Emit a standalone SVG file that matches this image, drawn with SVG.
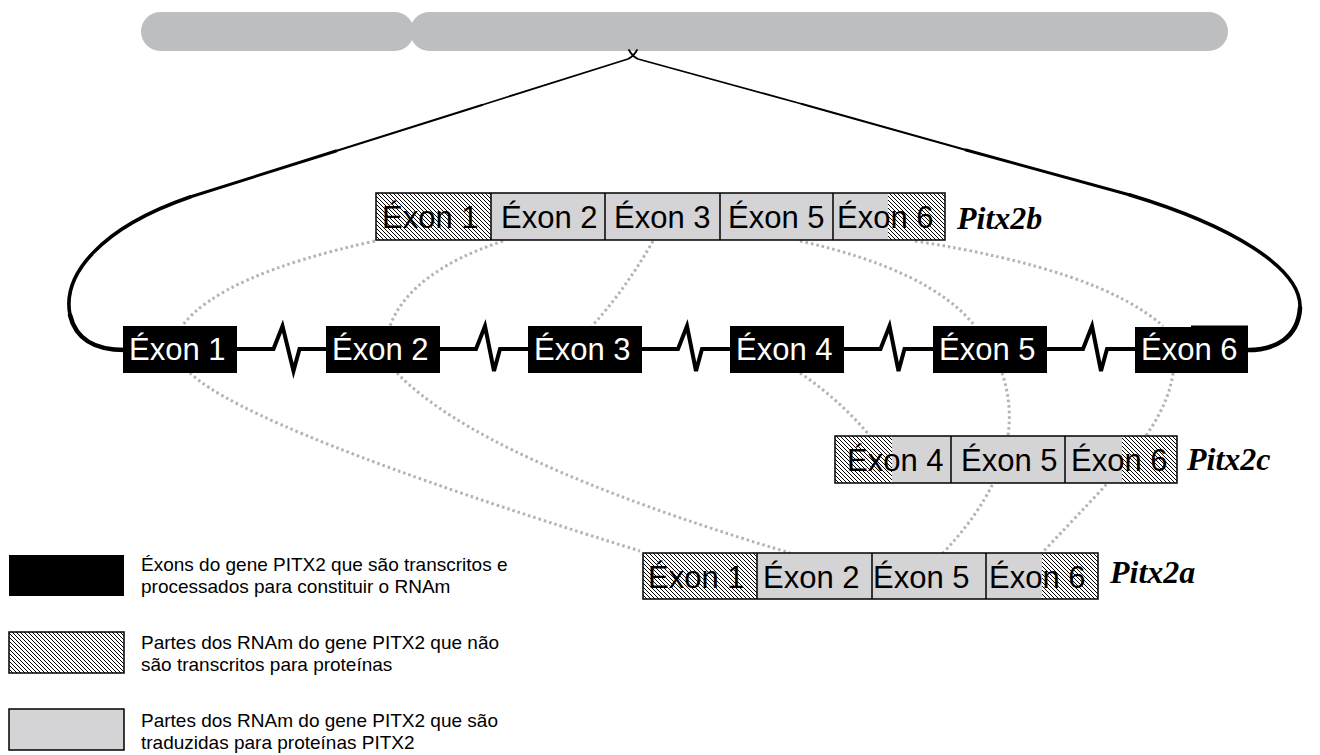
<svg xmlns="http://www.w3.org/2000/svg" width="1320" height="755" viewBox="0 0 1320 755">
<defs>
<pattern id="hatch" patternUnits="userSpaceOnUse" width="4" height="4">
<rect width="4" height="4" fill="#ffffff"/>
<path d="M-1,-1 L5,5 M-1,3 L1,5 M3,-1 L5,1" stroke="#000" stroke-width="1"/>
</pattern>
</defs>
<style>
.chr{fill:#bdbec0}
.dot{fill:none;stroke:#b3b3b3;stroke-width:3;stroke-dasharray:2.5 3}
.loop{fill:none;stroke:#000;stroke-linecap:round;stroke-linejoin:round}
.gene{fill:none;stroke:#000;stroke-width:4;stroke-linejoin:miter}
.ex{fill:#000}
.exT{font-family:"Liberation Sans",Arial,sans-serif;font-size:31px;fill:#fff}
.mT{font-family:"Liberation Sans",Arial,sans-serif;font-size:31px;fill:#000}
.gray{fill:#d4d4d6}
.hat{fill:url(#hatch)}
.frame{fill:none;stroke:#000;stroke-width:1.5}
.div{stroke:#000;stroke-width:1.5}
.lab{font-family:"Liberation Serif","Times New Roman",serif;font-size:32px;font-weight:bold;font-style:italic;fill:#000}
.leg{font-family:"Liberation Sans",Arial,sans-serif;font-size:19px;fill:#000}
</style>

<g id="chromosome">
<rect class="chr" x="141" y="12" width="273" height="39" rx="19.5"/>
<rect class="chr" x="410" y="12" width="818" height="39" rx="19.5"/>
</g>

<g id="connectors">
<path class="dot" d="M375,241 Q220,275 182,326"/>
<path class="dot" d="M190,373 Q250,430 640,551"/>
<path class="dot" d="M503,241 Q410,272 390,326"/>
<path class="dot" d="M397,373 Q480,460 790,553"/>
<path class="dot" d="M653,241 Q625,290 592,326"/>
<path class="dot" d="M800,241 Q930,270 975,326"/>
<path class="dot" d="M1002,373 C1018,420 1012,480 943,553"/>
<path class="dot" d="M915,241 Q1100,270 1163,326"/>
<path class="dot" d="M1173,373 C1165,430 1110,480 1042,553"/>
<path class="dot" d="M800,373 Q840,400 870,436"/>
</g>

<g id="splice-loop">
<path class="loop" stroke-width="1.8" d="M637,50 Q634,56 628,59 L482,105"/>
<path class="loop" stroke-width="2.3" d="M482,105 L336,151"/>
<path class="loop" stroke-width="2.9" d="M336,151 L190,197"/>
<path class="loop" stroke-width="3.6" d="M190,197 C100,228 62,275 70,315"/>
<path class="loop" stroke-width="4.6" d="M70,315 C76,340 95,350 125,350"/>
<path class="loop" stroke-width="1.8" d="M629,50 Q632,56 638,59 L802,104"/>
<path class="loop" stroke-width="2.3" d="M802,104 L966,150"/>
<path class="loop" stroke-width="2.9" d="M966,150 L1130,195"/>
<path class="loop" stroke-width="3.6" d="M1130,195 C1230,225 1302,268 1300,308"/>
<path class="loop" stroke-width="4.6" d="M1300,308 C1298,338 1275,350 1248,350"/>
</g>

<g id="gene-line">
<path class="gene" d="M123,349 L273.5,349 L282.5,326 L293.5,371 L299.5,349 L476,349 L485,326 L494,371 L500,349 L678,349 L687,326 L696,371 L702,349 L880.5,349 L889.5,326 L898.5,371 L904.5,349 L1083,349 L1092,326 L1101,371 L1107,349 L1248,349"/>
</g>

<g id="exon1"><rect class="ex" x="123" y="326" width="114" height="47"/><text class="exT" x="129" y="360">Éxon 1</text></g>
<g id="exon2"><rect class="ex" x="326" y="326" width="114" height="47"/><text class="exT" x="332" y="360">Éxon 2</text></g>
<g id="exon3"><rect class="ex" x="528" y="326" width="114" height="47"/><text class="exT" x="534" y="360">Éxon 3</text></g>
<g id="exon4"><rect class="ex" x="730" y="326" width="114" height="47"/><text class="exT" x="736" y="360">Éxon 4</text></g>
<g id="exon5"><rect class="ex" x="933" y="326" width="114" height="47"/><text class="exT" x="939" y="360">Éxon 5</text></g>
<g id="exon6"><rect class="ex" x="1135" y="327" width="113" height="46"/><rect class="ex" x="1191" y="325.5" width="57" height="3"/><text class="exT" x="1141" y="360">Éxon 6</text></g>

<g id="pitx2b">
<rect class="hat" x="376" y="193" width="115" height="47"/>
<rect class="gray" x="491" y="193" width="397" height="47"/>
<rect class="hat" x="888" y="193" width="57" height="47"/>
<rect class="frame" x="376" y="193" width="569" height="47"/>
<line class="div" x1="491" y1="193" x2="491" y2="240"/>
<line class="div" x1="605" y1="193" x2="605" y2="240"/>
<line class="div" x1="720" y1="193" x2="720" y2="240"/>
<line class="div" x1="833" y1="193" x2="833" y2="240"/>
<text class="mT" x="382" y="228">Éxon 1</text>
<text class="mT" x="501" y="228">Éxon 2</text>
<text class="mT" x="614" y="228">Éxon 3</text>
<text class="mT" x="728" y="228">Éxon 5</text>
<text class="mT" x="837" y="228">Éxon 6</text>
<text class="lab" x="957" y="229">Pitx2b</text>
</g>

<g id="pitx2c">
<rect class="hat" x="835" y="436" width="57" height="47"/>
<rect class="gray" x="892" y="436" width="230" height="47"/>
<rect class="hat" x="1122" y="436" width="55" height="47"/>
<rect class="frame" x="835" y="436" width="342" height="47"/>
<line class="div" x1="951" y1="436" x2="951" y2="483"/>
<line class="div" x1="1065" y1="436" x2="1065" y2="483"/>
<text class="mT" x="847" y="471">Éxon 4</text>
<text class="mT" x="961" y="471">Éxon 5</text>
<text class="mT" x="1071" y="471">Éxon 6</text>
<text class="lab" x="1187" y="470">Pitx2c</text>
</g>

<g id="pitx2a">
<rect class="hat" x="643" y="553" width="114" height="46"/>
<rect class="gray" x="757" y="553" width="285" height="46"/>
<rect class="hat" x="1042" y="553" width="56" height="46"/>
<rect class="frame" x="643" y="553" width="455" height="46"/>
<line class="div" x1="757" y1="553" x2="757" y2="599"/>
<line class="div" x1="872" y1="553" x2="872" y2="599"/>
<line class="div" x1="986" y1="553" x2="986" y2="599"/>
<text class="mT" x="648" y="588">Éxon 1</text>
<text class="mT" x="763" y="588">Éxon 2</text>
<text class="mT" x="873" y="588">Éxon 5</text>
<text class="mT" x="989" y="588">Éxon 6</text>
<text class="lab" x="1110" y="583">Pitx2a</text>
</g>

<g id="legend">
<rect x="9" y="555" width="115" height="41" fill="#000"/>
<rect x="9" y="632" width="115" height="41" fill="url(#hatch)" stroke="#000" stroke-width="1.5"/>
<rect x="9" y="709" width="115" height="41" fill="#d4d4d6" stroke="#000" stroke-width="1.5"/>
<text class="leg" x="141" y="571">Éxons do gene PITX2 que são transcritos e</text>
<text class="leg" x="141" y="593">processados para constituir o RNAm</text>
<text class="leg" x="141" y="649">Partes dos RNAm do gene PITX2 que não</text>
<text class="leg" x="141" y="671">são transcritos para proteínas</text>
<text class="leg" x="141" y="727">Partes dos RNAm do gene PITX2 que são</text>
<text class="leg" x="141" y="749">traduzidas para proteínas PITX2</text>
</g>
</svg>
